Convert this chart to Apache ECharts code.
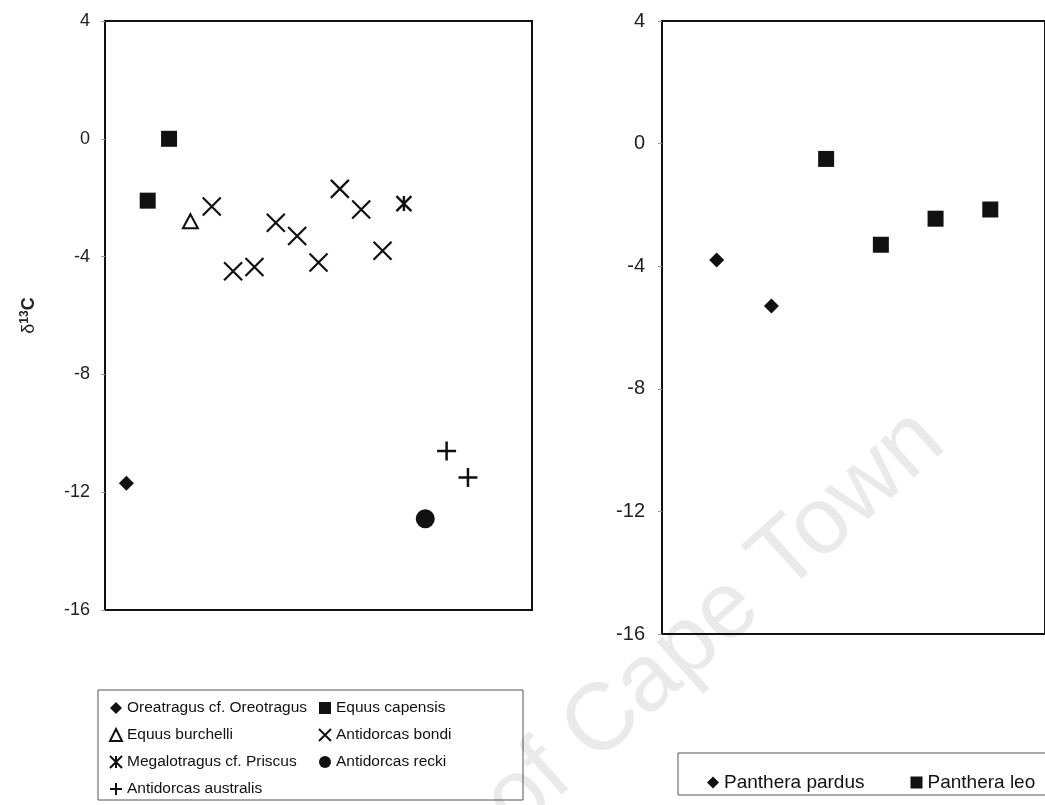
<!DOCTYPE html>
<html>
<head>
<meta charset="utf-8">
<script src="https://cdn.jsdelivr.net/npm/echarts/dist/echarts.min.js"></script>
<style>
html,body{margin:0;padding:0;background:#fff;}
#chart{width:1045px;height:805px;}
</style>
</head>
<body>
<div id="chart"></div>
<script>
// ---- data (x = specimen position, y = delta 13C) ----
const yTicks = [-16, -12, -8, -4, 0, 4];
const oreatragus = [[1, -11.7]];
const equusCapensis = [[2, -2.1], [3, 0.0]];
const equusBurchelli = [[4, -2.8]];
const antidorcasBondi = [[5, -2.3], [6, -4.5], [7, -4.35], [8, -2.85], [9, -3.3], [10, -4.2], [11, -1.7], [12, -2.4], [13, -3.8]];
const megalotragus = [[14, -2.2]];
const antidorcasRecki = [[15, -12.9]];
const antidorcasAustralis = [[16, -10.6], [17, -11.5]];
const pantheraPardus = [[1, -3.8], [2, -5.3]];
const pantheraLeo = [[3, -0.5], [4, -3.3], [5, -2.45], [6, -2.15]];

const leftNames = ['Oreatragus cf. Oreotragus', 'Equus capensis', 'Equus burchelli', 'Antidorcas bondi',
  'Megalotragus cf. Priscus', 'Antidorcas recki', 'Antidorcas australis'];
const rightNames = ['Panthera pardus', 'Panthera leo'];

const FONT = 'Liberation Sans, Arial, sans-serif';
const X_PATH = 'path://M0,0L10,10M10,0L0,10';
const PLUS_PATH = 'path://M5,0L5,10M0,5L10,5';
const AST_PATH = 'path://M0,0L10,10M10,0L0,10M5,0L5,10';

const chart = echarts.init(document.getElementById('chart'), null, {renderer: 'canvas'});

function yAxisCfg(gridIndex, fs, margin) {
  return {
    type: 'value', gridIndex, min: yTicks[0], max: yTicks[yTicks.length - 1], interval: 4,
    axisLine: {show: true, lineStyle: {color: '#111', width: 2}},
    axisTick: {show: true, length: 4, lineStyle: {color: '#999', width: 1}},
    axisLabel: {fontSize: fs, color: '#222', fontFamily: FONT, margin: margin},
    splitLine: {show: false}
  };
}
function sc(name, data, symbol, size, ax, style) {
  return {
    type: 'scatter', name, data, symbol, symbolSize: size,
    xAxisIndex: ax, yAxisIndex: ax,
    itemStyle: Object.assign({color: '#111', opacity: 1}, style || {}),
    emphasis: {disabled: true}, silent: true
  };
}
const strokeStyle = w => ({color: 'rgba(0,0,0,0)', borderColor: '#111', borderWidth: w});

const option = {
  animation: false,
  backgroundColor: '#fff',
  grid: [
    {left: 105, top: 21, width: 427, height: 589, show: true, borderColor: '#111', borderWidth: 2, backgroundColor: 'transparent'},
    {left: 662, top: 21, width: 392, height: 613, show: true, borderColor: '#111', borderWidth: 2, backgroundColor: 'transparent'}
  ],
  xAxis: [
    {type: 'value', gridIndex: 0, min: 0, max: 20, show: false},
    {type: 'value', gridIndex: 1, min: 0, max: 7, show: false}
  ],
  yAxis: [
    Object.assign(yAxisCfg(0, 18, 15), {
      name: '{d|δ}{s|13}{c|C}', nameLocation: 'middle', nameRotate: 90, nameGap: 66,
      nameTextStyle: {fontFamily: FONT, color: '#222',
        rich: {d: {fontSize: 18, fontFamily: FONT}, s: {fontSize: 12, fontFamily: FONT, fontWeight: 'bold', padding: [0, 0, 8, 0]}, c: {fontSize: 18, fontFamily: FONT, fontWeight: 'bold'}}}
    }),
    yAxisCfg(1, 20, 17)
  ],
  legend: [
    {data: [leftNames[0], leftNames[2], leftNames[4], leftNames[6]], orient: 'vertical', left: 104, top: 695,
      itemWidth: 12, itemHeight: 12, itemGap: 11, textStyle: {fontSize: 15.5, color: '#111', fontFamily: FONT}, selectedMode: false},
    {data: [leftNames[1], leftNames[3], leftNames[5]], orient: 'vertical', left: 313, top: 695,
      itemWidth: 12, itemHeight: 12, itemGap: 11, textStyle: {fontSize: 15.5, color: '#111', fontFamily: FONT}, selectedMode: false},
    {data: rightNames, orient: 'horizontal', left: 702, top: 768,
      itemWidth: 12, itemHeight: 12, itemGap: 46, textStyle: {fontSize: 19, color: '#111', fontFamily: FONT}, selectedMode: false}
  ],
  graphic: [
    {type: 'text', x: 550, y: 770, rotation: 0.733, z: -10, silent: true,
      style: {text: 'University of Cape Town', font: '95px ' + FONT, fill: '#eaeaea', align: 'center', verticalAlign: 'middle'}},
    {type: 'rect', shape: {x: 98, y: 690, width: 425, height: 110}, silent: true, z: -5,
      style: {fill: 'none', stroke: '#555', lineWidth: 1}},
    {type: 'rect', shape: {x: 678, y: 753, width: 400, height: 42}, silent: true, z: -5,
      style: {fill: 'none', stroke: '#555', lineWidth: 1}}
  ],
  series: [
    sc(leftNames[0], oreatragus, 'diamond', 15, 0),
    sc(leftNames[1], equusCapensis, 'rect', 16, 0),
    sc(leftNames[2], equusBurchelli, 'triangle', [15, 14], 0, {color: '#fff', borderColor: '#111', borderWidth: 2}),
    sc(leftNames[3], antidorcasBondi, X_PATH, 18, 0, strokeStyle(2.2)),
    sc(leftNames[4], megalotragus, AST_PATH, 15, 0, strokeStyle(2.4)),
    sc(leftNames[5], antidorcasRecki, 'circle', 19, 0),
    sc(leftNames[6], antidorcasAustralis, PLUS_PATH, 19, 0, strokeStyle(2.5)),
    sc(rightNames[0], pantheraPardus, 'diamond', 15, 1),
    sc(rightNames[1], pantheraLeo, 'rect', 16, 1)
  ]
};
chart.setOption(option);
</script>
</body>
</html>
